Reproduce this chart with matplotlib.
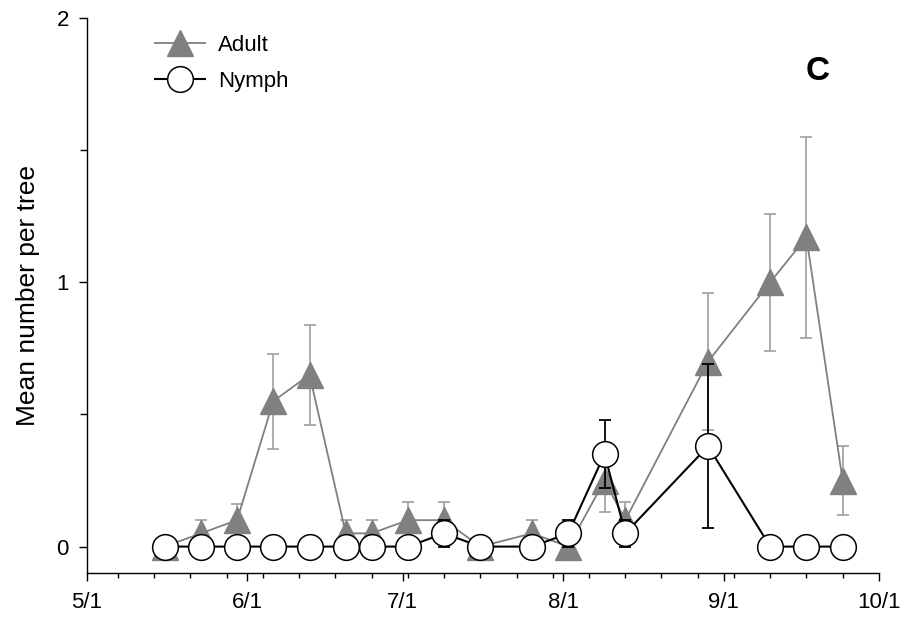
import datetime as dt

import numpy as np
import matplotlib
matplotlib.use("Agg")
import matplotlib.pyplot as plt
import matplotlib.dates as mdates

# sampling dates (year is arbitrary)
dates = ["5/16", "5/23", "5/30", "6/6", "6/13", "6/20", "6/25", "7/2", "7/9",
         "7/16", "7/26", "8/2", "8/9", "8/13", "8/29", "9/10", "9/17", "9/24"]

adult = [0, 0.05, 0.1, 0.55, 0.65, 0.05, 0.05, 0.1, 0.1,
         0, 0.05, 0, 0.25, 0.1, 0.7, 1.0, 1.17, 0.25]
adult_err = [0, 0.05, 0.06, 0.18, 0.19, 0.05, 0.05, 0.07, 0.07,
             0, 0.05, 0, 0.12, 0.07, 0.26, 0.26, 0.38, 0.13]

nymph = [0, 0, 0, 0, 0, 0, 0, 0, 0.05,
         0, 0, 0.05, 0.35, 0.05, 0.38, 0, 0, 0]
nymph_err = [0, 0, 0, 0, 0, 0, 0, 0, 0.05,
             0, 0, 0.05, 0.13, 0.05, 0.31, 0, 0, 0]

month_labels = ["5/1", "6/1", "7/1", "8/1", "9/1", "10/1"]

YEAR = 2010


def to_date(s):
    m, d = s.split("/")
    return dt.datetime(YEAR, int(m), int(d))


x = [to_date(s) for s in dates]
months = [to_date(s) for s in month_labels]

plt.rcParams["font.family"] = ["Liberation Sans", "DejaVu Sans"]

fig = plt.figure(figsize=(9.03, 6.24), dpi=100)
ax = fig.add_axes([0.0963, 0.0817, 0.877, 0.8895])

# adult (behind)
ax.errorbar(x, adult, yerr=adult_err, fmt="none", ecolor="#a6a6a6",
            elinewidth=1.3, capsize=4.5, capthick=1.3, zorder=2)
ax.plot(x, adult, color="#808080", lw=1.3, marker="^", ms=19,
        mfc="#808080", mec="#808080", label="Adult", zorder=3)

# nymph (front)
ax.errorbar(x, nymph, yerr=nymph_err, fmt="none", ecolor="black",
            elinewidth=1.3, capsize=4.5, capthick=1.3, zorder=4)
ax.plot(x, nymph, color="black", lw=1.5, marker="o", ms=18.5,
        mfc="white", mec="black", mew=1.1, label="Nymph", zorder=5)

ax.set_xlim(months[0], months[-1])
ax.set_ylim(-0.1, 2)
ax.set_xticks(months)
ax.set_xticklabels(month_labels)
minor = [months[0] + dt.timedelta(days=6 + 7 * k) for k in range(21)]
ax.set_xticks(minor, minor=True)
ax.set_yticks([0, 1, 2])
ax.set_yticks([0.5, 1.5], minor=True)

for side in ["top", "right"]:
    ax.spines[side].set_visible(False)
ax.spines["left"].set_bounds(-0.1, 2)
for side in ["left", "bottom"]:
    ax.spines[side].set_linewidth(1.0)

ax.tick_params(axis="both", which="major", direction="out", length=6,
               width=1.0, labelsize=16, pad=7)
ax.tick_params(axis="y", which="minor", direction="out", length=5, width=1.0)
ax.tick_params(axis="x", which="minor", direction="out", length=3.6, width=1.0)
ax.tick_params(axis="x", which="major", length=6, pad=8)

ax.set_ylabel("Mean number per tree", fontsize=19, labelpad=12)

ax.text(0.923, 0.903, "C", transform=ax.transAxes, fontsize=24,
        fontweight="bold", ha="center", va="center")

ax.legend(loc="upper left", bbox_to_anchor=(0.1617, 0.958),
          bbox_transform=fig.transFigure, frameon=False, fontsize=16,
          handlelength=2.25, handletextpad=0.6, labelspacing=0.68,
          borderaxespad=0)

fig.savefig("out.png", dpi=100)
